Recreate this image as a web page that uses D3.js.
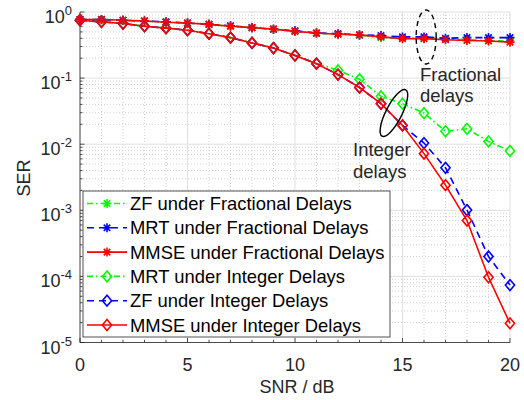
<!DOCTYPE html>
<meta charset="UTF-8">
<head>
<script src="https://cdn.jsdelivr.net/npm/d3@7"></script>
<style>
  body { margin: 0; background: #fff; }
  text { font-family: "Liberation Sans", Arial, Helvetica, sans-serif; fill: #262626; }
</style>
</head>
<body>
<svg id="svg" width="524" height="400"></svg>
<script>
// SNR in dB
const snr = [0, 1, 2, 3, 4, 5, 6, 7, 8, 9, 10, 11, 12, 13, 14, 15, 16, 17, 18, 19, 20];

// fractional delays
const zfFrac   = [0.77, 0.77, 0.75, 0.73, 0.70, 0.68, 0.65, 0.61, 0.58, 0.55, 0.51, 0.48, 0.46, 0.45, 0.41, 0.40, 0.40, 0.39, 0.38, 0.37, 0.36];
const mrtFrac  = [0.77, 0.77, 0.75, 0.73, 0.71, 0.68, 0.65, 0.62, 0.58, 0.55, 0.52, 0.48, 0.47, 0.45, 0.44, 0.42, 0.42, 0.40, 0.41, 0.41, 0.41];
const mmseFrac = [0.77, 0.77, 0.75, 0.73, 0.70, 0.68, 0.65, 0.61, 0.58, 0.55, 0.51, 0.48, 0.46, 0.45, 0.42, 0.395, 0.395, 0.38, 0.37, 0.365, 0.35];

// integer delays
const mrtInt  = [0.75, 0.71, 0.67, 0.61, 0.57, 0.53, 0.47, 0.41, 0.34, 0.285, 0.22, 0.167, 0.131, 0.096, 0.053, 0.041, 0.0295, 0.0157, 0.0171, 0.011, 0.0079];
const zfInt   = [0.75, 0.71, 0.67, 0.61, 0.57, 0.53, 0.47, 0.41, 0.34, 0.285, 0.22, 0.165, 0.113, 0.072, 0.041, 0.0192, 0.0104, 0.0044, 0.00101, 0.0002, 0.000074];
const mmseInt = [0.75, 0.71, 0.67, 0.61, 0.57, 0.53, 0.47, 0.41, 0.34, 0.285, 0.22, 0.165, 0.113, 0.072, 0.041, 0.0192, 0.0072, 0.0024, 0.0007, 0.000097, 0.0000195];

const legendNames = [
  "ZF under Fractional Delays",
  "MRT under Fractional Delays",
  "MMSE under Fractional Delays",
  "MRT under Integer Delays",
  "ZF under Integer Delays",
  "MMSE under Integer Delays"
];

const xTicks = [0, 5, 10, 15, 20];
const yExponents = [0, -1, -2, -3, -4, -5];

// styles (kept apart from the data)
const green = "#00ff00", blue = "#0000ff", red = "#ff0000";
const dashDot = "6,3,1.5,3", dashed = "7,5";
const series = [
  { name: legendNames[0], values: zfFrac,   color: green, dash: dashDot, marker: "star" },
  { name: legendNames[1], values: mrtFrac,  color: blue,  dash: dashed,  marker: "star" },
  { name: legendNames[2], values: mmseFrac, color: red,   dash: null,    marker: "star" },
  { name: legendNames[3], values: mrtInt,   color: green, dash: dashDot, marker: "diamond" },
  { name: legendNames[4], values: zfInt,    color: blue,  dash: dashed,  marker: "diamond" },
  { name: legendNames[5], values: mmseInt,  color: red,   dash: null,    marker: "diamond" }
];

const svg = d3.select("#svg");
const pl = 80, pr = 510, pt = 12, pb = 342.5;

const x = d3.scaleLinear().domain([0, 20]).range([pl, pr]);
const y = d3.scaleLog().domain([1e-5, 1]).range([pb, pt]);

// markers
function starPath(s) {
  const a = s * 0.72;
  return `M${-s},0L${s},0M0,${-s}L0,${s}M${-a},${-a}L${a},${a}M${-a},${a}L${a},${-a}`;
}
function diamondPath(w, h) {
  return `M0,${-h}L${w},0L0,${h}L${-w},0Z`;
}
function markerPath(m) {
  return m === "star" ? starPath(4.5) : diamondPath(4.6, 5.4);
}

// grid
const grid = svg.append("g");
const minorX = snr.filter(v => v % 5 !== 0);
const minorY = [];
yExponents.slice(1).forEach(e => { for (let k = 2; k <= 9; k++) minorY.push(k * Math.pow(10, e)); });

grid.selectAll(".mx").data(minorX).join("line")
  .attr("x1", d => x(d)).attr("x2", d => x(d)).attr("y1", pt).attr("y2", pb)
  .attr("stroke", "#c8c8c8").attr("stroke-width", 0.8).attr("stroke-dasharray", "1,2");
grid.selectAll(".my").data(minorY).join("line")
  .attr("x1", pl).attr("x2", pr).attr("y1", d => y(d)).attr("y2", d => y(d))
  .attr("stroke", "#c8c8c8").attr("stroke-width", 0.8).attr("stroke-dasharray", "1,2");
grid.selectAll(".gx").data(xTicks).join("line")
  .attr("x1", d => x(d)).attr("x2", d => x(d)).attr("y1", pt).attr("y2", pb)
  .attr("stroke", "#e0e0e0").attr("stroke-width", 1);
grid.selectAll(".gy").data(yExponents).join("line")
  .attr("x1", pl).attr("x2", pr).attr("y1", d => y(Math.pow(10, d))).attr("y2", d => y(Math.pow(10, d)))
  .attr("stroke", "#e0e0e0").attr("stroke-width", 1);

// axes (ticks inside, box off)
const ax = svg.append("g").attr("stroke", "#262626").attr("stroke-width", 0.8);
ax.append("line").attr("x1", pl).attr("x2", pr).attr("y1", pb).attr("y2", pb);
ax.append("line").attr("x1", pl).attr("x2", pl).attr("y1", pt).attr("y2", pb);
ax.selectAll(".tx").data(xTicks).join("line")
  .attr("x1", d => x(d)).attr("x2", d => x(d)).attr("y1", pb).attr("y2", pb - 4.5);
ax.selectAll(".mtx").data(minorX).join("line")
  .attr("x1", d => x(d)).attr("x2", d => x(d)).attr("y1", pb).attr("y2", pb - 2.5);
ax.selectAll(".ty").data(yExponents).join("line")
  .attr("x1", pl).attr("x2", pl + 4.5).attr("y1", d => y(Math.pow(10, d))).attr("y2", d => y(Math.pow(10, d)));
ax.selectAll(".mty").data(minorY).join("line")
  .attr("x1", pl).attr("x2", pl + 2.5).attr("y1", d => y(d)).attr("y2", d => y(d));

svg.selectAll(".xl").data(xTicks).join("text")
  .attr("x", d => x(d)).attr("y", pb + 28).attr("text-anchor", "middle")
  .attr("font-size", 18).text(d => d);

const yl = svg.selectAll(".yl").data(yExponents).join("text")
  .attr("x", 72).attr("y", d => y(Math.pow(10, d)) + 11).attr("text-anchor", "end")
  .attr("font-size", 18);
yl.append("tspan").text("10");
yl.append("tspan").attr("font-size", 13).attr("dy", -8).text(d => d);

svg.append("text").attr("x", (pl + pr) / 2 + 2).attr("y", 393).attr("text-anchor", "middle")
  .attr("font-size", 18).text("SNR / dB");
svg.append("text").attr("transform", "translate(30,178) rotate(-90)").attr("text-anchor", "middle")
  .attr("font-size", 18).text("SER");

// curves
const line = d3.line().x(d => x(d.snr)).y(d => y(d.v));
const plot = svg.append("g");
series.forEach(s => {
  const pts = snr.map((v, i) => ({ snr: v, v: s.values[i] }));
  const g = plot.append("g");
  g.append("path").datum(pts).attr("d", line)
    .attr("fill", "none").attr("stroke", s.color).attr("stroke-width", 1.6)
    .attr("stroke-dasharray", s.dash);
  g.selectAll("path.m").data(pts).join("path").attr("class", "m")
    .attr("transform", d => `translate(${x(d.snr)},${y(d.v)})`)
    .attr("d", markerPath(s.marker))
    .attr("fill", "none").attr("stroke", s.color).attr("stroke-width", 1.6);
});

// annotations
svg.append("ellipse").attr("cx", x(16.1)).attr("cy", 37).attr("rx", 10).attr("ry", 27)
  .attr("fill", "none").attr("stroke", "#000").attr("stroke-width", 1.4).attr("stroke-dasharray", "5,4");
svg.append("text").attr("x", 420).attr("y", 81).attr("font-size", 18.5).text("Fractional");
svg.append("text").attr("x", 420).attr("y", 102).attr("font-size", 18.5).text("delays");

svg.append("ellipse").attr("transform", `translate(${x(14.6)},113) rotate(27)`)
  .attr("rx", 8).attr("ry", 26).attr("fill", "none").attr("stroke", "#000").attr("stroke-width", 1.4);
svg.append("text").attr("x", 353).attr("y", 156).attr("font-size", 18.5).text("Integer");
svg.append("text").attr("x", 353).attr("y", 178).attr("font-size", 18.5).text("delays");

// legend
const lg = svg.append("g");
lg.append("rect").attr("x", 83).attr("y", 191).attr("width", 307).attr("height", 146)
  .attr("fill", "#fff").attr("stroke", "#262626").attr("stroke-width", 0.8);
series.forEach((s, i) => {
  const cy = 203.5 + i * 24.3;
  lg.append("line").attr("x1", 87).attr("x2", 127).attr("y1", cy).attr("y2", cy)
    .attr("stroke", s.color).attr("stroke-width", 1.6).attr("stroke-dasharray", s.dash);
  lg.append("path").attr("transform", `translate(107,${cy})`).attr("d", markerPath(s.marker))
    .attr("fill", "none").attr("stroke", s.color).attr("stroke-width", 1.6);
  lg.append("text").attr("x", 130).attr("y", cy + 6.5).attr("font-size", 18.4)
    .style("fill", "#000").text(s.name);
});
</script>
</body>
